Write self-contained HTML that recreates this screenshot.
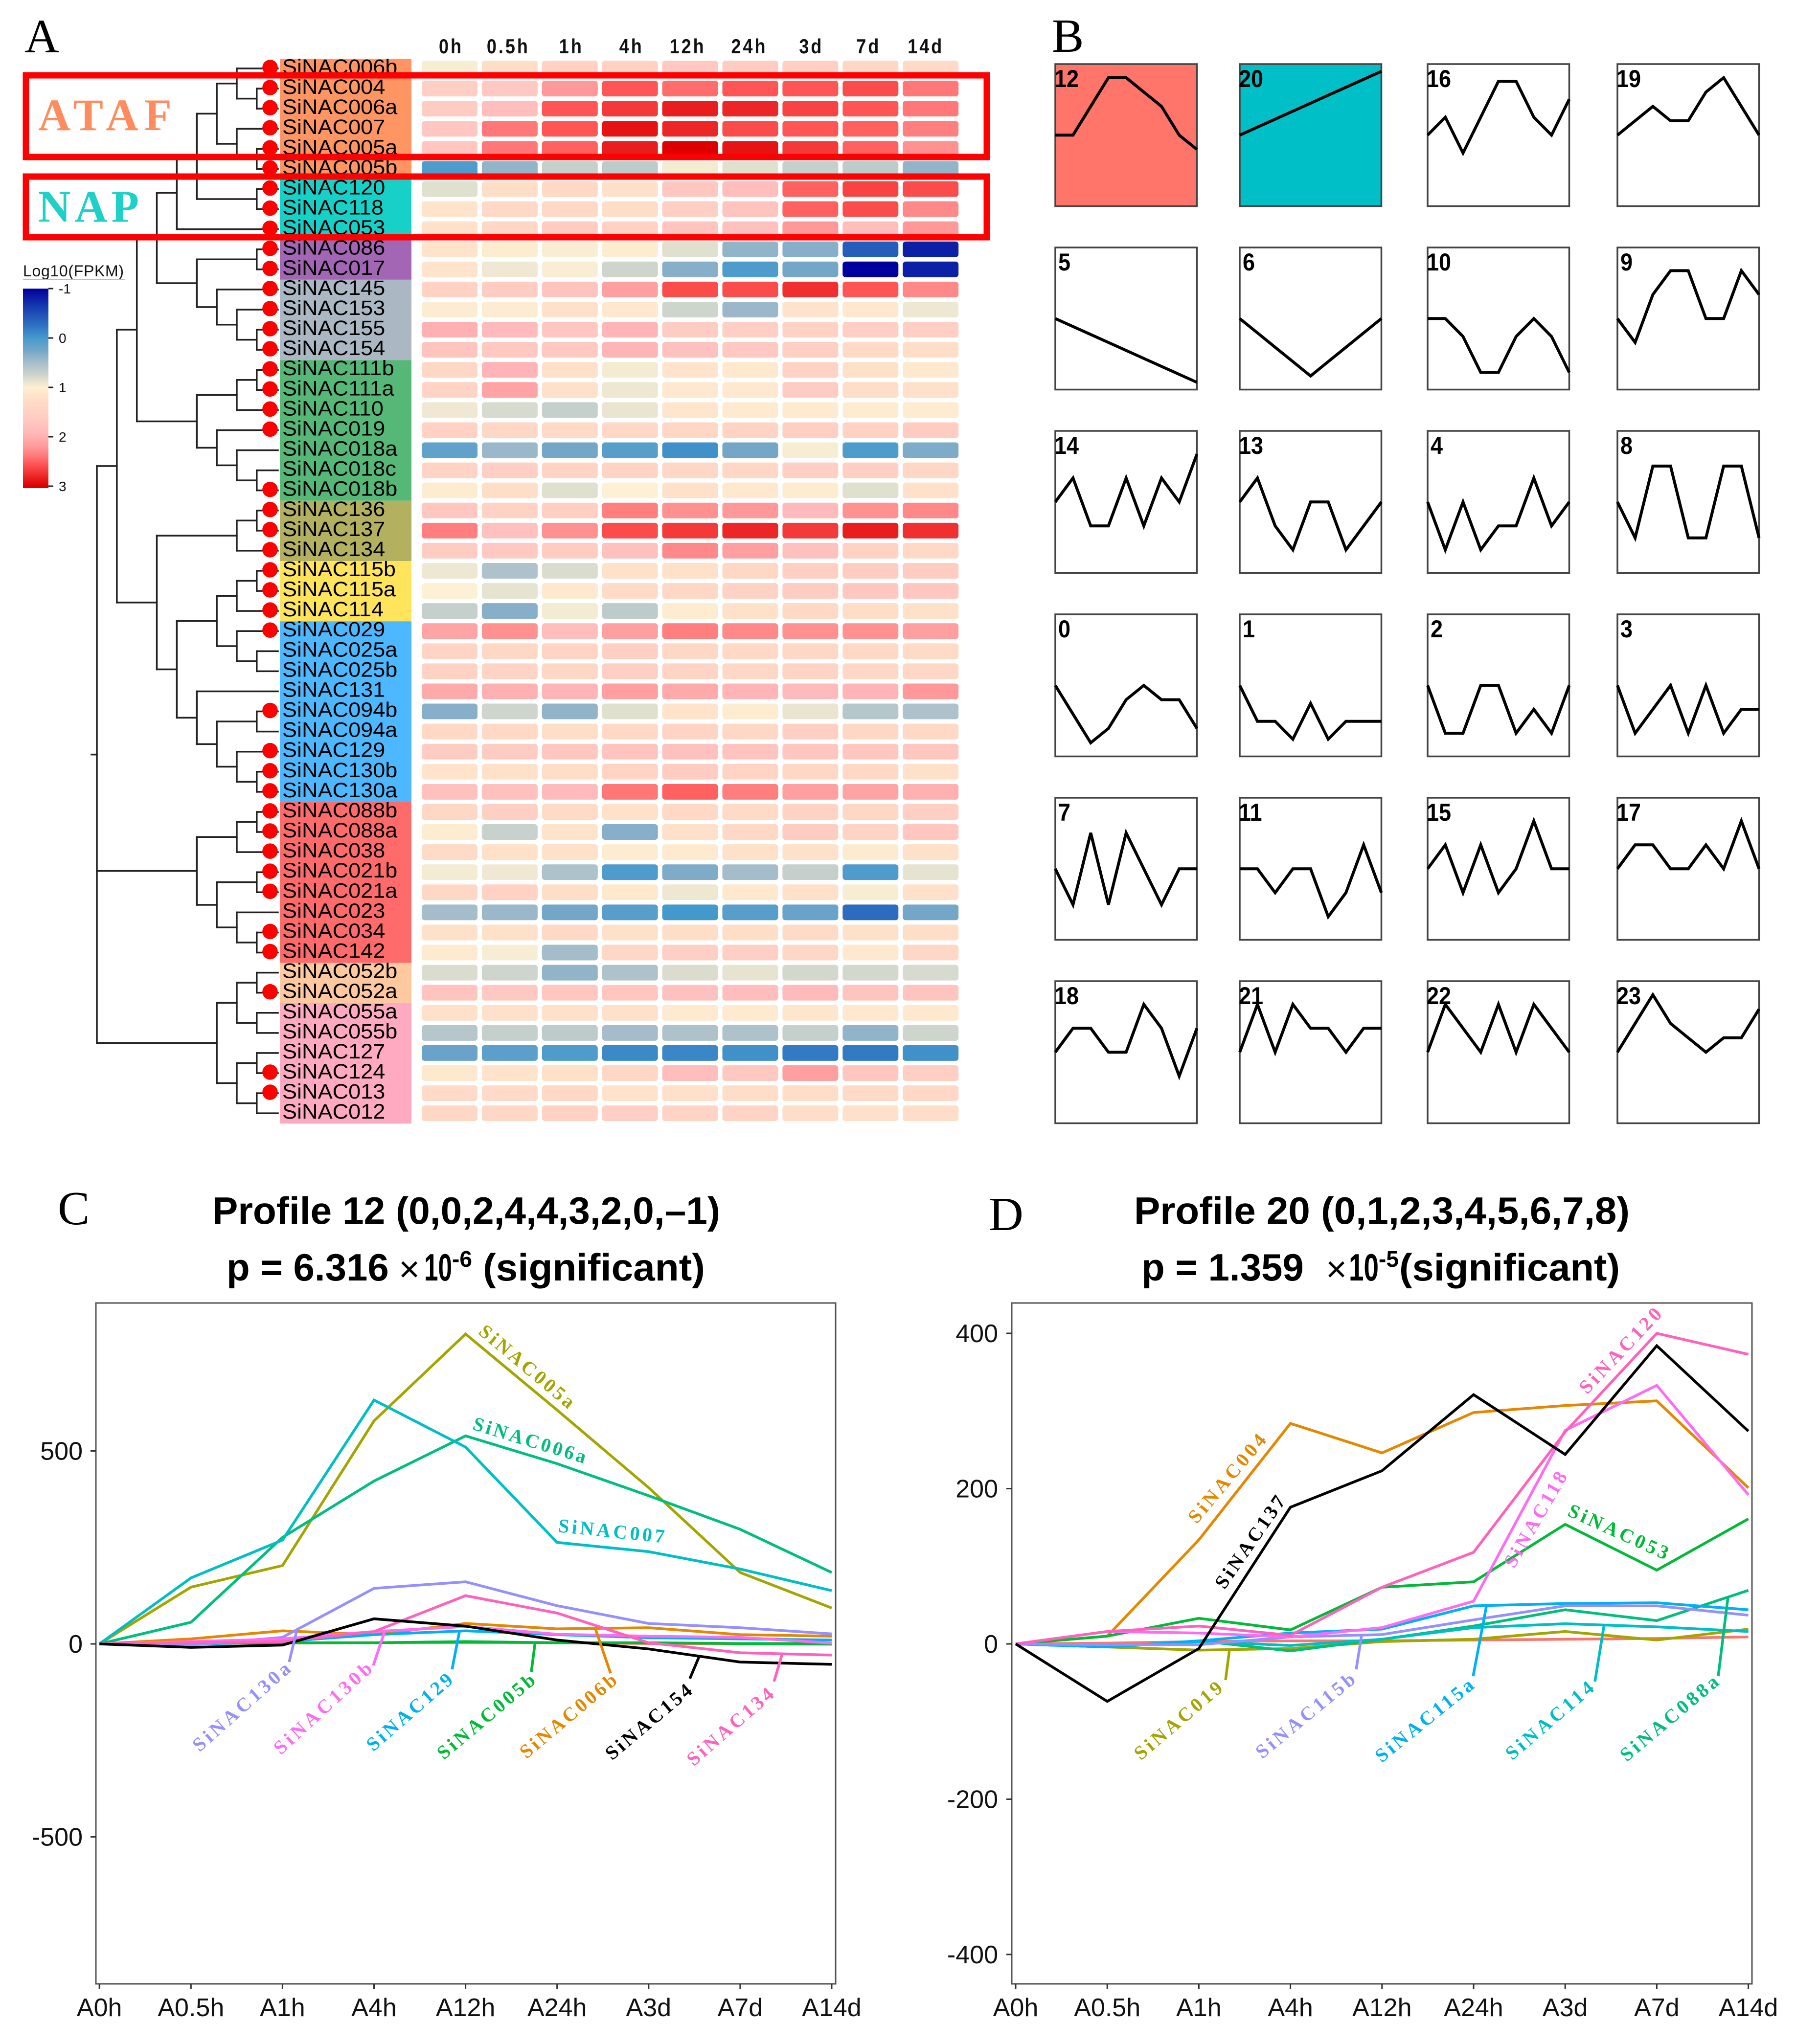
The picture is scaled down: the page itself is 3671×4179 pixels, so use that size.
<!DOCTYPE html>
<html lang="en">
<head>
<meta charset="utf-8">
<title>SiNAC expression heatmap and STEM profiles</title>
<style>
html,body{margin:0;padding:0;background:#fff}
svg{display:block}
text{font-family:"Liberation Sans",sans-serif}
.panel{font-family:"Liberation Serif",serif;font-size:98px;fill:#000}
.ttl{font-weight:bold;font-size:78px;fill:#000}
.lab{font-family:"Liberation Serif",serif;font-weight:bold;font-size:40px}
.lead{stroke-width:5.5;fill:none}
</style>
</head>
<body>
<svg id="fig" xmlns="http://www.w3.org/2000/svg" width="3671" height="4179" viewBox="0 0 3671 4179">
<defs>
  <linearGradient id="legendGrad" x1="0" y1="0" x2="0" y2="1"></linearGradient>
</defs>
<rect width="3671" height="4179" fill="#fff"/>

<g id="panelA"></g>
<g id="panelB"></g>
<g id="panelC"></g>
<g id="panelD"></g>

<text class="panel" x="50" y="107">A</text>
<text class="panel" x="2150" y="106">B</text>
<text class="panel" x="118" y="2503">C</text>
<text class="panel" x="2021" y="2515">D</text>

<!-- ATAF / NAP highlight boxes -->
<rect x="53" y="154" width="1964" height="167" fill="none" stroke="#ff0000" stroke-width="13"/>
<rect x="53" y="361" width="1964" height="124" fill="none" stroke="#ff0000" stroke-width="13"/>
<text x="78" y="266" font-size="92" font-weight="bold" fill="#ff8c5f" textLength="273" lengthAdjust="spacing" style="font-family:'Liberation Serif',serif">ATAF</text>
<text x="78" y="453" font-size="92" font-weight="bold" fill="#1fd0c8" textLength="206" lengthAdjust="spacing" style="font-family:'Liberation Serif',serif">NAP</text>

<!-- Legend -->
<g>
  <text x="47" y="565" font-size="32" fill="#111" textLength="206" lengthAdjust="spacing">Log10(FPKM)</text>
  <line x1="47" y1="571" x2="256" y2="571" stroke="#bbb" stroke-width="2"/>
  <rect x="47" y="590" width="52" height="408" fill="url(#legendGrad)"/>
  <g id="legendTicks"></g>
</g>

<!-- Panel C titles -->
<text class="ttl" x="434" y="2502" textLength="1038" lengthAdjust="spacingAndGlyphs">Profile 12 (0,0,2,4,4,3,2,0,–1)</text>
<text class="ttl" x="463" y="2618">p = 6.316</text>
<text x="815" y="2620" font-size="74">×</text>
<text class="ttl" x="867" y="2618" textLength="57" lengthAdjust="spacingAndGlyphs">10</text>
<text x="924" y="2590" font-size="46" font-weight="bold">-6</text>
<text class="ttl" x="987" y="2618" textLength="454" lengthAdjust="spacingAndGlyphs">(significant)</text>

<!-- Panel D titles -->
<text class="ttl" x="2318" y="2502" textLength="1013" lengthAdjust="spacingAndGlyphs">Profile 20 (0,1,2,3,4,5,6,7,8)</text>
<text class="ttl" x="2333" y="2618">p = 1.359</text>
<text x="2710" y="2620" font-size="74">×</text>
<text class="ttl" x="2757" y="2618" textLength="61" lengthAdjust="spacingAndGlyphs">10</text>
<text x="2818" y="2590" font-size="46" font-weight="bold">-5</text>
<text class="ttl" x="2860" y="2618" textLength="451" lengthAdjust="spacingAndGlyphs">(significant)</text>

<!-- Panel C annotations -->
<g id="annC">
  <text class="lab" fill="#A3A500" transform="translate(976 2726) rotate(40)" textLength="242" lengthAdjust="spacing">SiNAC005a</text>
  <text class="lab" fill="#00BF7D" transform="translate(964 2922) rotate(17)" textLength="240" lengthAdjust="spacing">SiNAC006a</text>
  <text class="lab" fill="#00BFC4" transform="translate(1140 3132) rotate(6)" textLength="218" lengthAdjust="spacing">SiNAC007</text>
  <text class="lab" fill="#9590FF" transform="translate(408 3583) rotate(-41.6)" textLength="252" lengthAdjust="spacing">SiNAC130a</text>
  <text class="lab" fill="#FF6BF3" transform="translate(574 3589) rotate(-42.6)" textLength="257" lengthAdjust="spacing">SiNAC130b</text>
  <text class="lab" fill="#00B0F6" transform="translate(763 3582) rotate(-41)" textLength="219" lengthAdjust="spacing">SiNAC129</text>
  <text class="lab" fill="#00BA38" transform="translate(907 3599) rotate(-40)" textLength="248" lengthAdjust="spacing">SiNAC005b</text>
  <text class="lab" fill="#E58700" transform="translate(1076 3597) rotate(-40)" textLength="245" lengthAdjust="spacing">SiNAC006b</text>
  <text class="lab" fill="#000000" transform="translate(1251 3600) rotate(-40)" textLength="217" lengthAdjust="spacing">SiNAC154</text>
  <text class="lab" fill="#FF62BC" transform="translate(1418 3612) rotate(-41)" textLength="220" lengthAdjust="spacing">SiNAC134</text>
  <line class="lead" x1="591" y1="3398" x2="606" y2="3336" stroke="#9590FF"/>
  <line class="lead" x1="763" y1="3405" x2="786" y2="3336" stroke="#FF6BF3"/>
  <line class="lead" x1="924" y1="3413" x2="939" y2="3336" stroke="#00B0F6"/>
  <line class="lead" x1="1086" y1="3418" x2="1094" y2="3356" stroke="#00BA38"/>
  <line class="lead" x1="1248" y1="3421" x2="1217" y2="3330" stroke="#E58700"/>
  <line class="lead" x1="1410" y1="3432" x2="1429" y2="3387" stroke="#000000"/>
  <line class="lead" x1="1582" y1="3438" x2="1599" y2="3381" stroke="#FF62BC"/>
</g>

<!-- Panel D annotations -->
<g id="annD">
  <text class="lab" fill="#E58700" transform="translate(2446 3117) rotate(-50)" textLength="224" lengthAdjust="spacing">SiNAC004</text>
  <text class="lab" fill="#000000" transform="translate(2503 3251) rotate(-55.3)" textLength="221" lengthAdjust="spacing">SiNAC137</text>
  <text class="lab" fill="#FF62BC" transform="translate(3244 2852) rotate(-46.5)" textLength="225" lengthAdjust="spacing">SiNAC120</text>
  <text class="lab" fill="#FF6BF3" transform="translate(3095 3208) rotate(-60)" textLength="219" lengthAdjust="spacing">SiNAC118</text>
  <text class="lab" fill="#00BA38" transform="translate(3202 3098) rotate(24.4)" textLength="221" lengthAdjust="spacing">SiNAC053</text>
  <text class="lab" fill="#A3A500" transform="translate(2332 3600) rotate(-40.5)" textLength="223" lengthAdjust="spacing">SiNAC019</text>
  <text class="lab" fill="#9590FF" transform="translate(2580 3597) rotate(-39.5)" textLength="250" lengthAdjust="spacing">SiNAC115b</text>
  <text class="lab" fill="#00B0F6" transform="translate(2824 3605) rotate(-39)" textLength="246" lengthAdjust="spacing">SiNAC115a</text>
  <text class="lab" fill="#00BFC4" transform="translate(3091 3600) rotate(-40.5)" textLength="223" lengthAdjust="spacing">SiNAC114</text>
  <text class="lab" fill="#00BF7D" transform="translate(3325 3603) rotate(-40)" textLength="249" lengthAdjust="spacing">SiNAC088a</text>
  <line class="lead" x1="2505" y1="3435" x2="2513" y2="3373" stroke="#A3A500"/>
  <line class="lead" x1="2772" y1="3413" x2="2783" y2="3344" stroke="#9590FF"/>
  <line class="lead" x1="3011" y1="3427" x2="3038" y2="3285" stroke="#00B0F6"/>
  <line class="lead" x1="3260" y1="3438" x2="3279" y2="3321" stroke="#00BFC4"/>
  <line class="lead" x1="3512" y1="3427" x2="3532" y2="3265" stroke="#00BF7D"/>
</g>
</svg>

<script>
/* ---------- Panel A data ---------- */
const timeLabels = ['0h','0.5h','1h','4h','12h','24h','3d','7d','14d'];
const geneIds = ['006b','004','006a','007','005a','005b','120','118','053','086','017','145','153','155','154','111b','111a','110','019','018a','018c','018b','136','137','134','115b','115a','114','029','025a','025b','131','094b','094a','129','130b','130a','088b','088a','038','021b','021a','023','034','142','052b','052a','055a','055b','127','124','013','012'];
const genesWithoutDot = ['018a','018c','131','025a','025b','094a','023','052b','055a','055b','127','012'];
const groupSizes = [6,3,2,4,7,3,3,9,8,2,6];
const groupColors = ['#ff9562','#17d0c8','#a266b5','#abb8c4','#56b877','#b3b060','#ffe45c','#4db8ff','#ff6b6b','#ffc9a0','#ffaac0'];
const heatValues = [
[.97,1.25,1.5,1.5,1.65,1.6,1.55,1.4,1.3],
[1.55,1.65,2.2,2.55,2.45,2.55,2.55,2.6,2.4],
[1.6,1.85,2.55,2.7,2.85,2.8,2.65,2.55,2.4],
[1.7,2.4,2.55,2.9,2.8,2.6,2.55,2.5,2.35],
[1.7,2.4,2.5,2.85,3,2.9,2.7,2.5,2.25],
[.05,.4,.7,.65,.95,.85,.7,.65,.4],
[.85,1.25,1.35,1.2,1.7,1.85,2.5,2.65,2.6],
[1.15,1.35,1.35,1.25,1.55,1.75,2.5,2.6,2.3],
[1.2,1.4,1.6,1.5,1.75,1.8,2.2,1.85,2.2],
[1.15,1.05,.98,1.05,.85,.4,.35,-.4,-.8],
[1.15,.93,.98,.75,.35,.05,.25,-1,-.8],
[1.5,1.6,1.75,2.15,2.6,2.6,2.75,2.55,2.3],
[1.05,1.05,1.2,1.1,.75,.45,1.15,1.1,.92],
[2,1.9,1.7,1.95,1.6,1.55,1.5,1.55,1.55],
[1.75,1.65,1.65,1.95,1.8,1.65,1.55,1.3,1.25],
[1.4,1.95,1.2,.95,1.15,1.1,1.5,1.2,1.1],
[1.45,2.1,1.2,.92,1.1,1.1,1.6,1.25,1.2],
[.93,.8,.7,.9,1.12,1.08,1.08,1.05,1.05],
[1.5,1.4,1.3,1.35,1.4,1.45,1.55,1.5,1.6],
[.15,.45,.25,.1,-.05,.25,.97,.05,.3],
[1.45,1.55,1.45,1.45,1.4,1.4,1.55,1.55,1.4],
[1.05,1.25,.85,1,1.2,1.1,1.05,.85,1.2],
[1.7,1.5,1.55,2.35,2.25,2.2,1.9,2.25,2.3],
[2.35,1.8,2.25,2.6,2.7,2.8,2.7,2.85,2.75],
[1.6,1.65,1.6,1.8,2.3,2.15,1.8,1.5,1.35],
[.92,.55,.82,1.2,1.2,1.4,1.55,1.6,1.6],
[1,.88,1.1,1.3,1.4,1.5,1.6,1.7,1.7],
[.7,.35,.95,.65,1.05,1.2,1.35,1.25,1.2],
[2.1,2.25,1.85,2.15,2.35,2.3,2.25,2.25,2.15],
[1.45,1.4,1.45,1.55,1.4,1.35,1.4,1.35,1.3],
[1.5,1.45,1.4,1.55,1.45,1.4,1.45,1.4,1.4],
[2.05,2,1.95,2.15,2.05,1.95,1.9,1.95,2.2],
[.35,.75,.4,.85,1.15,1.05,.9,.6,.55],
[1.35,1.35,1.25,1.35,1.45,1.4,1.55,1.4,1.35],
[1.6,1.6,1.7,1.75,1.8,1.75,1.7,1.7,1.7],
[1.15,1.2,1.25,1.45,1.6,1.45,1.4,1.35,1.2],
[1.8,1.8,1.9,2.4,2.5,2.35,2.15,2.1,2],
[1.4,1.55,1.3,1.2,1.35,1.3,1.5,1.4,1.55],
[1.05,.72,1.15,.35,1.2,1.35,1.6,1.45,1.7],
[1.3,1.2,1.2,1.05,1.08,1.2,1.2,1.08,1.2],
[.95,.93,.55,.05,.3,.5,.7,.05,.88],
[1.4,1.5,1.25,1.1,.92,1.1,1.2,.97,1.2],
[.5,.45,.25,.1,0,.1,.2,-.3,.25],
[1.2,1.2,1.35,1.2,1.25,1.25,1.3,1.2,1.25],
[1.08,.97,.5,1.4,1.55,1.55,1.4,1.1,1.4],
[.82,.75,.4,.55,.82,.88,.78,.78,.8],
[1.75,1.65,1.7,1.7,1.8,1.85,1.9,1.75,1.75],
[1.2,1.2,1.2,1.2,1.08,1.08,1.12,1.1,1.1],
[.6,.7,.65,.5,.55,.55,.7,.4,.75],
[.2,.12,.05,-.1,-.12,-.05,-.2,-.2,-.05],
[1.1,1.15,1.2,1.4,1.85,1.65,2.15,1.7,1.55],
[1.3,1.3,1.35,1.15,1.2,1.25,1.25,1.3,1.35],
[1.4,1.4,1.5,1.55,1.45,1.45,1.25,1.2,1.25]
];
const legendTickValues = [-1,0,1,2,3];
const colorScaleValues = [-1,-.6,-.25,0,.25,.5,.75,1,1.2,1.5,1.9,2.2,2.4,2.55,2.75,3];
const colorScaleHex = ['#00009e','#1840b0','#2f72c2','#4499cc','#74a6c8','#a5bdca','#cdd5cc','#fdf0d4','#ffe0c8','#ffd2c4','#ffbbbb','#ff9999','#ff7777','#ff5555','#f03030','#dd0000'];
/* Dendrogram: [mergeHeight, child, child...]; strings are gene ids */
const dendrogram = [0,
 [1,
  [2,
   [3,
    [4,
     [5,
      [6,[7,'006b',[8,'004','006a']],[7,'007',[8,'005a','005b']]],
      [8,'120','118']],
     '053'],
    [5,[8,'086','017'],[6,'145',[7,'153',[8,'155','154']]]]],
   [5,[7,[8,'111b','111a'],'110'],[6,'019',[7,'018a',[8,'018c','018b']]]]],
  [3,
   [7,[8,'136','137'],'134'],
   [4,
    [6,[7,[8,'115b','115a'],'114'],[7,'029',[8,'025a','025b']]],
    [5,'131',[6,[8,'094b','094a'],[7,'129',[8,'130b','130a']]]]]]],
 [5,[7,[8,'088b','088a'],'038'],[6,[8,'021b','021a'],[7,'023',[8,'034','142']]]],
 [6,[7,[8,'052b','052a'],[8,'055a','055b']],[7,[8,'127','124'],[8,'013','012']]]
];

/* ---------- Panel B data ---------- */
const profileOrder = [12,20,16,19,5,6,10,9,14,13,4,8,0,1,2,3,7,11,15,17,18,21,22,23];
const profile0 = [0,-2,-4,-3,-1,0,-1,-1,-3];
const profile1 = [0,-2,-2,-3,-1,-3,-2,-2,-2];
const profile2 = [0,-2,-2,0,0,-2,-1,-2,0];
const profile3 = [0,-2,-1,0,-2,0,-2,-1,-1];
const profile4 = [0,-2,0,-2,-1,-1,1,-1,0];
const profile5 = [0,-1,-2,-3,-4,-5,-6,-7,-8];
const profile6 = [0,-1,-2,-3,-4,-3,-2,-1,0];
const profile7 = [0,-1,1,-1,1,0,-1,0,0];
const profile8 = [0,-1,1,1,-1,-1,1,1,-1];
const profile9 = [0,-1,1,2,2,0,0,2,1];
const profile10 = [0,0,-1,-3,-3,-1,0,-1,-3];
const profile11 = [0,0,-1,0,0,-2,-1,1,-1];
const profile12 = [0,0,2,4,4,3,2,0,-1];
const profile13 = [0,1,-1,-2,0,0,-2,-1,0];
const profile14 = [0,1,-1,-1,1,-1,1,0,2];
const profile15 = [0,1,-1,1,-1,0,2,0,0];
const profile16 = [0,1,-1,1,3,3,1,0,2];
const profile17 = [0,1,1,0,0,1,0,2,0];
const profile18 = [0,1,1,0,0,2,1,-1,1];
const profile19 = [0,1,2,1,1,3,4,2,0];
const profile20 = [0,1,2,3,4,5,6,7,8];
const profile21 = [0,2,0,2,1,1,0,1,1];
const profile22 = [0,2,1,0,2,0,2,1,0];
const profile23 = [0,2,4,2,1,0,1,1,3];
const profileSeries = [profile0,profile1,profile2,profile3,profile4,profile5,profile6,profile7,profile8,profile9,profile10,profile11,profile12,profile13,profile14,profile15,profile16,profile17,profile18,profile19,profile20,profile21,profile22,profile23];

/* ---------- Panels C / D data ---------- */
const timeCategories = ['A0h','A0.5h','A1h','A4h','A12h','A24h','A3d','A7d','A14d'];
const yTicksC = [500,0,-500];
const yTicksD = [400,200,0,-200,-400];
const namesC = ['unlabeled','SiNAC005a','SiNAC006b','SiNAC005b','SiNAC006a','SiNAC007','SiNAC129','SiNAC130a','SiNAC130b','SiNAC134','SiNAC154'];
const colorsC = ['#F8766D','#A3A500','#E58700','#00BA38','#00BF7D','#00BFC4','#00B0F6','#9590FF','#FF6BF3','#FF62BC','#000000'];
const unlabeledC = [0,1,2,3,3,3,1,0,-1];
const sinac005a = [0,147,203,578,803,606,405,185,93];
const sinac006b = [0,13,34,24,53,39,42,24,20];
const sinac005b = [0,1,3,3,6,3,3,1,1];
const sinac006a = [0,56,276,422,539,467,384,297,185];
const sinac007 = [0,171,269,632,510,263,239,194,138];
const sinac129 = [0,-1,6,24,34,24,16,13,10];
const sinac130a = [0,-3,17,144,161,99,53,42,26];
const sinac130b = [0,6,13,32,45,25,20,17,2];
const sinac134 = [0,3,6,32,125,80,3,-23,-29];
const sinac154 = [0,-9,-3,65,46,10,-13,-47,-53];
const seriesC = [unlabeledC,sinac005a,sinac006b,sinac005b,sinac006a,sinac007,sinac129,sinac130a,sinac130b,sinac134,sinac154];

const namesD = ['unlabeled','SiNAC019','SiNAC004','SiNAC053','SiNAC088a','SiNAC114','SiNAC115a','SiNAC115b','SiNAC118','SiNAC120','SiNAC137'];
const colorsD = ['#F8766D','#A3A500','#E58700','#00BA38','#00BF7D','#00BFC4','#00B0F6','#9590FF','#FF6BF3','#FF62BC','#000000'];
const unlabeledD = [0,1,3,4,4,5,6,7,9];
const sinac019 = [0,-4,-8,-6,3,6,16,5,19];
const sinac004 = [0,10,134,284,246,298,307,313,201];
const sinac053 = [0,10,33,18,73,80,154,95,161];
const sinac088a = [0,-4,4,-9,6,23,44,30,69];
const sinac114 = [0,-4,3,-2,6,21,26,22,16];
const sinac115a = [0,-4,4,14,19,49,52,53,44];
const sinac115b = [0,-1,-1,9,12,31,49,49,37];
const sinac118 = [0,16,14,9,21,55,275,333,192];
const sinac120 = [0,16,23,11,73,118,273,400,373];
const sinac137 = [0,-74,-6,176,223,321,244,384,274];
const seriesD = [unlabeledD,sinac019,sinac004,sinac053,sinac088a,sinac114,sinac115a,sinac115b,sinac118,sinac120,sinac137];

/* ---------- helpers ---------- */
const NS = 'http://www.w3.org/2000/svg';
function mk(tag, attrs, parent, txt) {
  const e = document.createElementNS(NS, tag);
  for (const k in attrs) e.setAttribute(k, attrs[k]);
  if (txt !== undefined) e.textContent = txt;
  parent.appendChild(e);
  return e;
}
function hexRgb(h) { return [1,3,5].map(i => parseInt(h.substr(i,2),16)); }
function heatColor(v) {
  const s = colorScaleValues;
  if (v <= s[0]) return colorScaleHex[0];
  for (let i = 1; i < s.length; i++) {
    if (v <= s[i]) {
      const t = (v - s[i-1]) / (s[i] - s[i-1]);
      const a = hexRgb(colorScaleHex[i-1]), b = hexRgb(colorScaleHex[i]);
      return 'rgb(' + a.map((c,j) => Math.round(c + (b[j]-c)*t)).join(',') + ')';
    }
  }
  return colorScaleHex[colorScaleHex.length-1];
}

/* ---------- Panel A scales ---------- */
const rowY = i => 140 + 41.08 * i;
const colX = j => 862 + 122.9 * j;
const levelX = l => 198 + 40.85 * l;
const legendY = v => 590 + (v + 1) * 101;
const headerShift = j => [3,-3,3,3,-5,-2,2,-4,-10][j];
const panelA = document.getElementById('panelA');

/* legend gradient and ticks */
const grad = document.getElementById('legendGrad');
colorScaleValues.forEach((v,i) => {
  mk('stop', {offset: (legendY(v)-590)/408, 'stop-color': colorScaleHex[i]}, grad);
});
const legendTicks = document.getElementById('legendTicks');
legendTickValues.forEach(v => {
  const t = mk('line', {x1:99, x2:109, y1:legendY(v), y2:legendY(v), stroke:'#222', 'stroke-width':3}, legendTicks);
  
  
  const l = mk('text', {x:120, y:legendY(v)+10, 'font-size':28, fill:'#111'}, legendTicks, String(v));
  
  
});

/* dendrogram */
const treeG = mk('g', {stroke:'#222', 'stroke-width':3.5, fill:'none', 'stroke-linecap':'square'}, panelA);


function seg(x1,y1,x2,y2) {
  const s = mk('line', {x1:x1,y1:y1,x2:x2,y2:y2}, treeG);
  
  
}
function layout(node, parentX) {
  if (typeof node === 'string') {
    const y = rowY(geneIds.indexOf(node));
    seg(parentX, y, 568, y);
    return y;
  }
  const x = levelX(node[0]);
  const ys = node.slice(1).map(c => layout(c, x));
  const top = ys[0], bot = ys[ys.length-1];
  seg(x, top, x, bot);
  const y = (top + bot) / 2;
  seg(parentX, y, x, y);
  return y;
}
layout(dendrogram, 187);

/* side colour bars */
let groupStart = 0;
groupSizes.forEach((n,g) => {
  const b = mk('rect', {x:572, y:120 + groupStart*41.08, width:269, height:n*41.08, fill:groupColors[g]}, panelA);
  
  
  groupStart += n;
});

/* column headers */
timeLabels.forEach((t,j) => {
  const h = mk('text', {transform:'translate('+(colX(j)+57+headerShift(j))+' 109) scale(1 1.15)', 'text-anchor':'middle', 'font-size':36, 'font-weight':'bold', 'letter-spacing':4, fill:'#111'}, panelA, t);
  
  
});

/* rows */
geneIds.forEach((id,i) => {
  const y = rowY(i);
  heatValues[i].forEach((v,j) => {
    const c = mk('rect', {x:colX(j), y:y-16, width:114, height:32, rx:6, ry:6, fill:heatColor(v)}, panelA);
    
    
  });
  const t = mk('text', {transform:'translate(577 '+(y+11)+') scale(1.06 1)', 'font-size':42.5, fill:'#000'}, panelA, 'SiNAC'+id);
  
  
  if (genesWithoutDot.indexOf(id) < 0) {
    const d = mk('circle', {cx:552, cy:y-2, r:15.8, fill:'#ff0000'}, panelA);
    
    
  }
});

/* ---------- Panel B ---------- */
const panelB = document.getElementById('panelB');
const boxW = 289.5, boxH = 290.5;
const boxLeft = c => [2157,2534,2918,3306][c];
const boxTop = r => 131 + 375 * r;
const profileFill = {12:'#ff7569', 20:'#00bfc6'};
profileOrder.forEach((pid,k) => {
  const c = k % 4, r = Math.floor(k / 4);
  const x0 = boxLeft(c), y0 = boxTop(r);
  const vals = profileSeries[pid];
  const m = Math.max.apply(null, vals.map(Math.abs)) + 1;
  const g = mk('g', {}, panelB);
  
  
  const bx = mk('rect', {x:x0, y:y0, width:boxW, height:boxH, fill:profileFill[pid] || '#fff', stroke:'#444', 'stroke-width':3.5}, g);
  
  
  const pts = vals.map((v,i) => (x0 + i*boxW/8).toFixed(1) + ',' + (y0 + boxH/2 - v/m*146.8).toFixed(1)).join(' ');
  const pl = mk('polyline', {points:pts, fill:'none', stroke:'#000', 'stroke-width':6, 'stroke-linejoin':'miter'}, g);
  
  
  const lb = mk('text', {transform:'translate('+(x0 + (pid > 9 ? -2 : 6))+' '+(y0+47)+') scale(0.9 1)', 'font-size':50, 'font-weight':'bold', fill:'#000'}, g, String(pid));
  
  
});

/* ---------- Panels C & D ---------- */
function lineChart(g, frame, xFn, yFn, yTicks, names, colors, series, yLabelRight) {
  const fr = mk('rect', {x:frame[0], y:frame[1], width:frame[2]-frame[0], height:frame[3]-frame[1], fill:'#fff', stroke:'#555', 'stroke-width':3}, g);
  
  
  yTicks.forEach(v => {
    const t = mk('line', {x1:frame[0]-11, x2:frame[0], y1:yFn(v), y2:yFn(v), stroke:'#333', 'stroke-width':3}, g);
    
    
    const l = mk('text', {x:yLabelRight, y:yFn(v)+18, 'text-anchor':'end', 'font-size':52, fill:'#111'}, g, String(v));
    
    
  });
  timeCategories.forEach((c,i) => {
    const t = mk('line', {x1:xFn(i), x2:xFn(i), y1:frame[3], y2:frame[3]+11, stroke:'#333', 'stroke-width':3}, g);
    
    
    const l = mk('text', {x:xFn(i), y:4122, 'text-anchor':'middle', 'font-size':52, fill:'#111'}, g, c);
    
    
  });
  series.forEach((vals,s) => {
    const pts = vals.map((v,i) => xFn(i).toFixed(1) + ',' + yFn(v).toFixed(1)).join(' ');
    const p = mk('polyline', {points:pts, fill:'none', stroke:colors[s], 'stroke-width':5.5, 'stroke-linejoin':'miter'}, g);
    
    
  });
}
const xC = i => 203.2 + 187.1 * i;
const yC = v => 3361 - v * 0.789;
const xD = i => 2076 + 187.2 * i;
const yD = v => 3361 - v * 1.5875;
lineChart(document.getElementById('panelC'), [196,2664,1708,4056], xC, yC, yTicksC, namesC, colorsC, seriesC, 169);
lineChart(document.getElementById('panelD'), [2068,2664,3581,4056], xD, yD, yTicksD, namesD, colorsD, seriesD, 2040);
</script>
</body>
</html>
